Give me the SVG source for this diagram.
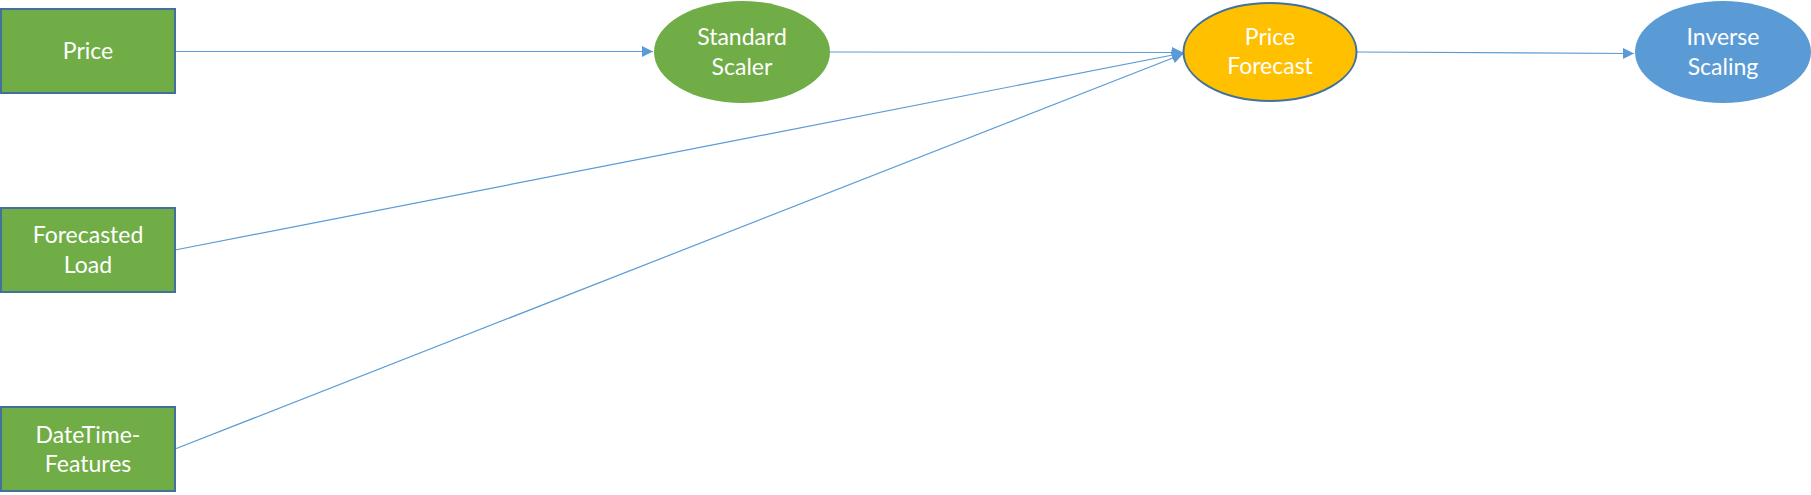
<svg xmlns="http://www.w3.org/2000/svg" width="1811" height="495" viewBox="0 0 1811 495">
<defs>
<marker id="arr" viewBox="0 0 10 10" refX="10" refY="5" markerWidth="13" markerHeight="11" markerUnits="userSpaceOnUse" orient="auto">
<path d="M0,0 L10,5 L0,10 Z" fill="#5B9BD5"/>
</marker>
<style>
.box{fill:#70AD47;stroke:#41719C;stroke-width:2}
.t{font-family:Lato,"Open Sans","Liberation Sans",sans-serif;font-size:23px;fill:#FFFFFF;text-anchor:middle}
.c{fill:none;stroke:#5B9BD5;stroke-width:1.2;marker-end:url(#arr)}
</style>
</defs>
<rect width="1811" height="495" fill="#FFFFFF"/>
<g id="connectors">
<line class="c" x1="175" y1="51.5" x2="653" y2="51.5"/>
<line class="c" x1="830" y1="52" x2="1183" y2="52.5"/>
<line class="c" x1="175" y1="250" x2="1183" y2="53"/>
<line class="c" x1="175" y1="449" x2="1183" y2="54"/>
<line class="c" x1="1357" y1="52" x2="1634" y2="53.5"/>
</g>
<g id="price">
<rect class="box" x="1" y="9" width="174" height="84"/>
<text class="t" x="88" y="59">Price</text>
</g>
<g id="forecasted-load">
<rect class="box" x="1" y="208" width="174" height="84"/>
<text class="t" x="88" y="243">Forecasted</text>
<text class="t" x="88" y="273">Load</text>
</g>
<g id="datetime-features">
<rect class="box" x="1" y="407" width="174" height="84"/>
<text class="t" x="88" y="443">DateTime-</text>
<text class="t" x="88" y="472">Features</text>
</g>
<g id="standard-scaler">
<ellipse cx="742" cy="52" rx="88" ry="51" fill="#70AD47"/>
<text class="t" x="742" y="45">Standard</text>
<text class="t" x="742" y="75">Scaler</text>
</g>
<g id="price-forecast">
<ellipse cx="1270" cy="52" rx="86.5" ry="49" fill="#FFC000" stroke="#41719C" stroke-width="2"/>
<text class="t" x="1270" y="45">Price</text>
<text class="t" x="1270" y="74">Forecast</text>
</g>
<g id="inverse-scaling">
<ellipse cx="1723" cy="52" rx="88" ry="51" fill="#5B9BD5"/>
<text class="t" x="1723" y="45">Inverse</text>
<text class="t" x="1723" y="75">Scaling</text>
</g>
</svg>
